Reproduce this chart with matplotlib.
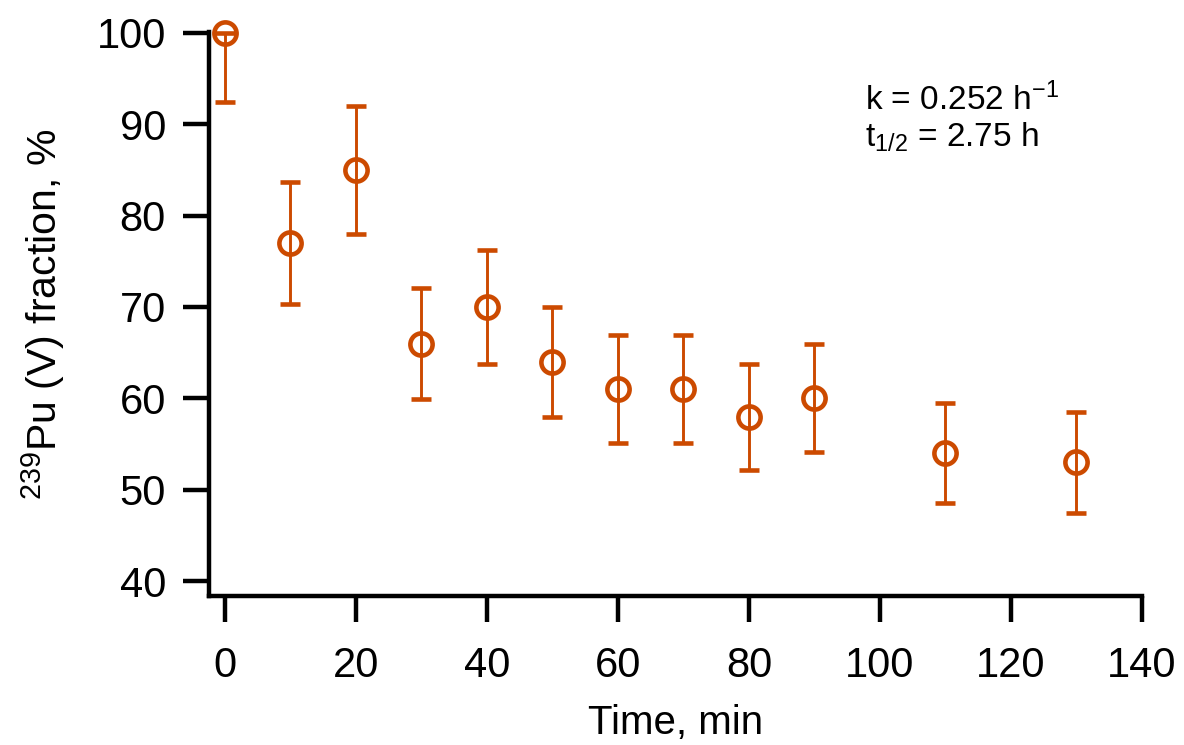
import matplotlib
matplotlib.use("Agg")
import matplotlib.pyplot as plt
import numpy as np

plt.rcParams["font.family"] = ["Liberation Sans", "DejaVu Sans"]
plt.rcParams["mathtext.fontset"] = "custom"
plt.rcParams["mathtext.rm"] = "Liberation Sans"
plt.rcParams["mathtext.it"] = "Liberation Sans"
plt.rcParams["mathtext.default"] = "regular"

# data
time_min = [0, 10, 20, 30, 40, 50, 60, 70, 80, 90, 110, 130]
pu_v_pct = [100, 77, 85, 66, 70, 64, 61, 61, 58, 60, 54, 53]
err_low = [7.6, 6.7, 7.0, 6.1, 6.2, 6.0, 5.9, 5.9, 5.8, 5.9, 5.5, 5.5]
err_high = [0.0, 6.7, 7.0, 6.1, 6.2, 6.0, 5.9, 5.9, 5.8, 5.9, 5.5, 5.5]
x_ticks = [0, 20, 40, 60, 80, 100, 120, 140]
y_ticks = [40, 50, 60, 70, 80, 90, 100]

col = "#CC4A00"

fig = plt.figure(figsize=(11.84, 7.45), dpi=100)
ax = fig.add_axes([209 / 1184, 1 - 596 / 745, (1142 - 209) / 1184, (596 - 32) / 745])

ax.errorbar(time_min, pu_v_pct, yerr=[err_low, err_high], fmt="o", color=col,
            mfc="none", mec=col, ms=16, mew=3.3, elinewidth=2.1, capsize=7.4,
            capthick=2.1, clip_on=False, zorder=3)

ax.set_xlim(-2.44, 140)
ax.set_ylim(38.36, 100.1)
ax.set_xticks(x_ticks)
ax.set_yticks(y_ticks)

for s in ["top", "right"]:
    ax.spines[s].set_visible(False)
for s in ["left", "bottom"]:
    ax.spines[s].set_linewidth(3.2)
ax.tick_params(axis="both", direction="out", length=19, width=3.2,
               labelsize=30, pad=12)
ax.tick_params(axis="x", pad=17)

ax.set_xlabel("Time, min", fontsize=29, labelpad=13)
ax.set_ylabel(r"$^{239}$Pu (V) fraction, %", fontsize=29.5, labelpad=21)

ax.text(0.703, 0.862, r"k = 0.252 h$^{-1}$", transform=ax.transAxes,
        fontsize=24, ha="left", va="baseline")
ax.text(0.703, 0.796, r"t$_{1/2}$ = 2.75 h", transform=ax.transAxes,
        fontsize=24, ha="left", va="baseline")

fig.savefig("out.png", dpi=100)
